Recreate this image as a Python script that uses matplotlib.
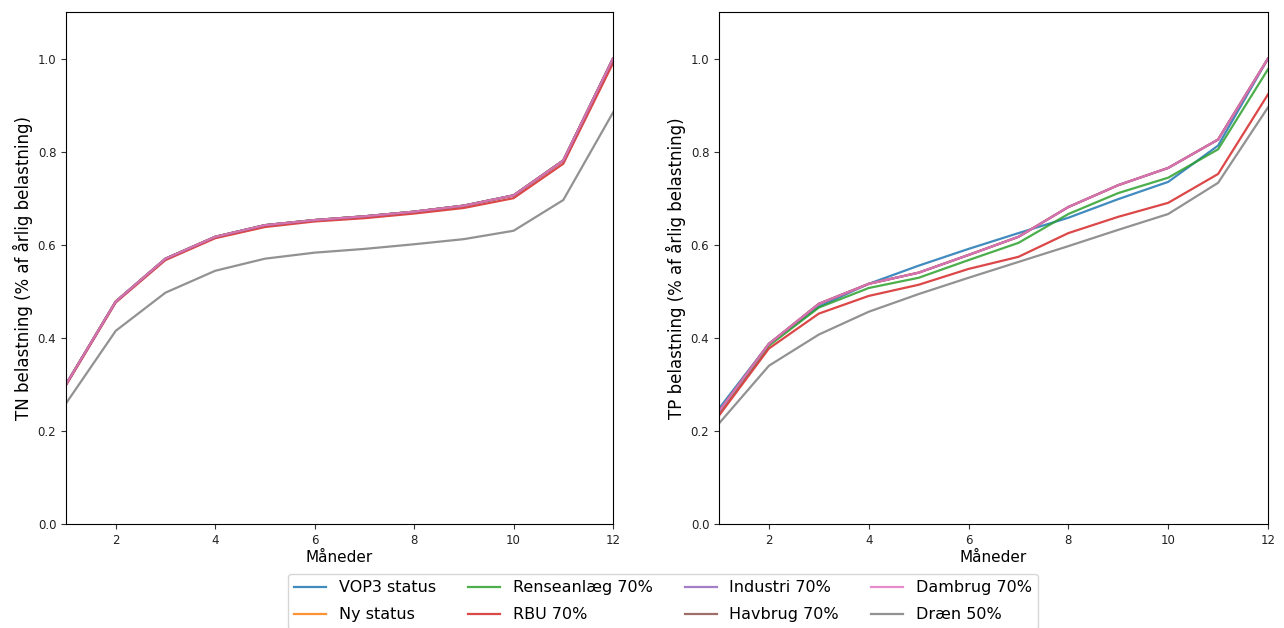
import matplotlib
matplotlib.use("Agg")
import matplotlib.pyplot as plt

months = [1, 2, 3, 4, 5, 6, 7, 8, 9, 10, 11, 12]
labels = ["VOP3 status", "Ny status", "Renseanlæg 70%", "RBU 70%",
          "Industri 70%", "Havbrug 70%", "Dambrug 70%", "Dræn 50%"]

# TN (share of annual load)
tn_base = [0.300, 0.478, 0.570, 0.617, 0.642, 0.653, 0.661, 0.671, 0.684, 0.706, 0.781, 1.000]
tn_rbu = [0.298, 0.476, 0.567, 0.614, 0.638, 0.650, 0.657, 0.667, 0.679, 0.700, 0.774, 0.990]
tn_dran = [0.259, 0.415, 0.497, 0.544, 0.570, 0.583, 0.591, 0.601, 0.612, 0.630, 0.696, 0.884]
tn_series = [tn_base, tn_base, tn_base, tn_rbu, tn_base, tn_base, tn_base, tn_dran]

# TP (share of annual load)
tp_vop3 = [0.248, 0.387, 0.467, 0.516, 0.555, 0.591, 0.625, 0.658, 0.698, 0.735, 0.813, 1.000]
tp_other = [0.242, 0.387, 0.473, 0.516, 0.540, 0.578, 0.617, 0.681, 0.728, 0.765, 0.826, 1.000]
tp_rens = [0.240, 0.383, 0.465, 0.507, 0.529, 0.567, 0.604, 0.666, 0.711, 0.744, 0.805, 0.977]
tp_rbu = [0.233, 0.377, 0.452, 0.490, 0.514, 0.548, 0.574, 0.625, 0.660, 0.690, 0.752, 0.923]
tp_dran = [0.216, 0.340, 0.407, 0.456, 0.494, 0.529, 0.563, 0.597, 0.632, 0.666, 0.733, 0.895]
tp_series = [tp_vop3, tp_other, tp_rens, tp_rbu, tp_other, tp_other, tp_other, tp_dran]

colors = ["#1f77b4", "#ff7f0e", "#2ca02c", "#d62728",
          "#9467bd", "#8c564b", "#e377c2", "#7f7f7f"]

fig = plt.figure(figsize=(12.84, 6.28), dpi=100)
ax1 = fig.add_axes([66/1284, 1-524/628, 547/1284, 512/628])
ax2 = fig.add_axes([719/1284, 1-524/628, 549/1284, 512/628])

for ax, series, ylab in [(ax1, tn_series, "TN belastning (% af årlig belastning)"),
                         (ax2, tp_series, "TP belastning (% af årlig belastning)")]:
    for s, lab, c in zip(series, labels, colors):
        ax.plot(months, s, color=c, lw=1.6, alpha=0.85, label=lab)
    ax.set_xlim(1, 12)
    ax.set_ylim(0, 1.1)
    ax.set_xticks([2, 4, 6, 8, 10, 12])
    ax.set_yticks([0.0, 0.2, 0.4, 0.6, 0.8, 1.0])
    ax.tick_params(labelsize=8.5, colors="#333333", labelcolor="#222222")
    ax.set_xlabel("Måneder", fontsize=11, labelpad=2)
    ax.set_ylabel(ylab, fontsize=12, labelpad=3)

handles, labs = ax1.get_legend_handles_labels()
fig.legend(handles, labs, loc="upper center", ncol=4,
           bbox_to_anchor=(663/1284, 1-566/628), fontsize=11.5,
           labelspacing=0.75, frameon=True)

fig.savefig("out.png", dpi=100)
